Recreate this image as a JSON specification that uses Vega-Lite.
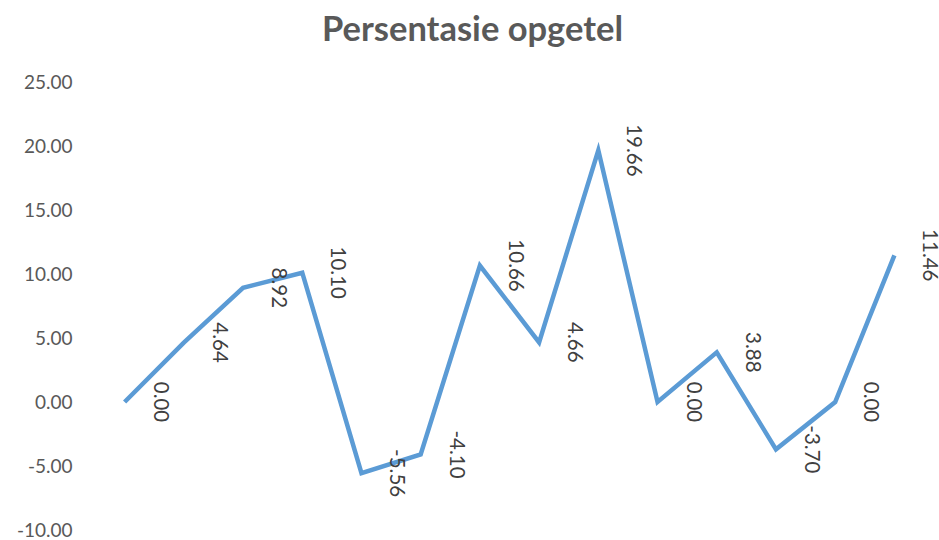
{
  "$schema": "https://vega.github.io/schema/vega-lite/v6.json",
  "autosize": {"type": "none"},
  "width": 829,
  "height": 448,
  "padding": {"left": 95, "top": 82, "right": 15, "bottom": 10},
  "background": "white",
  "title": {
    "text": "Persentasie opgetel",
    "fontSize": 34.5,
    "font": "Lato",
    "fontWeight": "bold",
    "color": "#595959",
    "anchor": "middle",
    "dx": -37,
    "offset": 25
  },
  "data": {
    "values": [
      {"i": 1, "v": 0.00},
      {"i": 2, "v": 4.64},
      {"i": 3, "v": 8.92},
      {"i": 4, "v": 10.10},
      {"i": 5, "v": -5.56},
      {"i": 6, "v": -4.10},
      {"i": 7, "v": 10.66},
      {"i": 8, "v": 4.66},
      {"i": 9, "v": 19.66},
      {"i": 10, "v": 0.00},
      {"i": 11, "v": 3.88},
      {"i": 12, "v": -3.70},
      {"i": 13, "v": 0.00},
      {"i": 14, "v": 11.46}
    ]
  },
  "encoding": {
    "x": {"field": "i", "type": "quantitative", "scale": {"domain": [0.5, 14.5], "nice": false, "zero": false}, "axis": null},
    "y": {"field": "v", "type": "quantitative", "scale": {"domain": [-10, 25], "nice": false, "zero": false},
      "axis": {"values": [-10, -5, 0, 5, 10, 15, 20, 25], "format": ".2f", "domain": false, "ticks": false, "grid": false,
        "labelFont": "Lato", "labelFontSize": 19, "labelColor": "#595959", "labelPadding": 23, "title": null}}
  },
  "layer": [
    {"mark": {"type": "line", "color": "#5B9BD5", "strokeWidth": 4.5}},
    {"mark": {"type": "text", "angle": 90, "align": "center", "baseline": "middle", "dy": -35, "font": "Lato", "fontSize": 20.5, "color": "#404040"},
      "encoding": {"text": {"field": "v", "type": "quantitative", "format": ".2f"}}}
  ],
  "config": {
    "view": {"stroke": null},
    "locale": {"number": {"decimal": ".", "thousands": ",", "grouping": [3], "currency": ["$", ""], "minus": "-"}}
  }
}
